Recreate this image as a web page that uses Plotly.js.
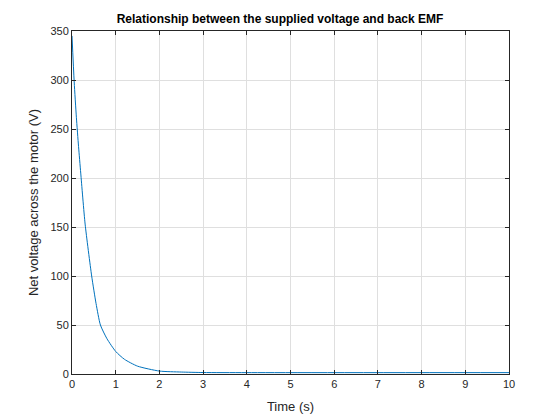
<!DOCTYPE html>
<html>
<head>
<script src="https://cdn.plot.ly/plotly-3.0.1.min.js"></script>
<style>body{margin:0;}</style>
</head>
<body>
<div id="chart" style="width:560px;height:420px;"></div>
<script>
// values
var timeS = [0, 0.05, 0.1, 0.15, 0.2, 0.3, 0.45, 0.55, 0.65, 0.8, 1.0, 1.2, 1.5, 2.0, 2.5, 3, 4, 10];
var netVoltage = [345, 298, 262, 232, 205, 153, 100, 72, 50, 36, 23, 15, 8, 3, 2, 1.5, 1.4, 1.4];

var trace = {
    x: timeS,
    y: netVoltage,
    mode: 'lines',
    type: 'scatter',
    line: {color: '#0072bd', width: 1, shape: 'spline', smoothing: 0.6}
};

var axisStyle = {
    showgrid: true,
    gridcolor: '#dfdfdf',
    zeroline: false,
    showline: true,
    linecolor: '#262626',
    linewidth: 1,
    mirror: 'ticks',
    ticks: 'inside',
    ticklen: 4,
    tickcolor: '#262626',
    tickfont: {size: 11, color: '#262626'}
};

var layout = {
    width: 560,
    height: 420,
    margin: {l: 72, r: 51, t: 31, b: 46},
    paper_bgcolor: '#ffffff',
    plot_bgcolor: '#ffffff',
    font: {family: 'Liberation Sans, Arial, sans-serif', color: '#262626'},
    title: {
        text: '<b>Relationship between the supplied voltage and back EMF</b>',
        font: {size: 12, color: '#000000'},
        x: 0.5, xanchor: 'center', y: 0.965
    },
    xaxis: Object.assign({}, axisStyle, {
        range: [0, 10],
        dtick: 1,
        title: {text: 'Time (s)', font: {size: 13}, standoff: 12}
    }),
    yaxis: Object.assign({}, axisStyle, {
        range: [0, 350],
        dtick: 50,
        title: {text: 'Net voltage across the motor (V)', font: {size: 13}, standoff: 8}
    }),
    showlegend: false
};

Plotly.newPlot('chart', [trace], layout, {displayModeBar: false});
</script>
</body>
</html>
